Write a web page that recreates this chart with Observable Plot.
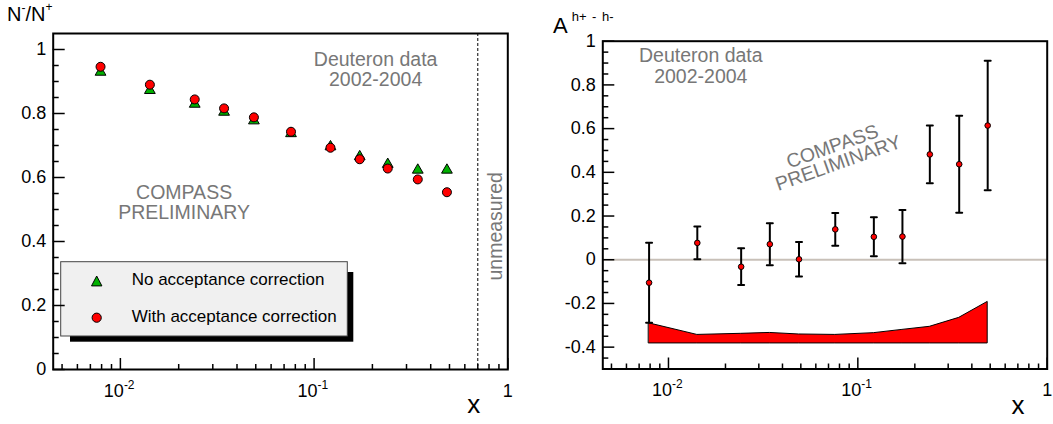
<!DOCTYPE html>
<html><head><meta charset="utf-8">
<script src="https://cdn.jsdelivr.net/npm/d3@7"></script>
<script src="https://cdn.jsdelivr.net/npm/@observablehq/plot@0.6"></script>
<style>
body{margin:0;background:#fff;font-family:"Liberation Sans",Arial,sans-serif;}
#wrap{position:relative;width:1053px;height:424px;overflow:hidden;background:#fff;}
#overlay{position:absolute;left:0;top:0;}
#left,#right{position:absolute;top:0;}
#left{left:0px}
#right{left:530px}
</style></head><body>
<div id="wrap">
  <svg id="overlay" width="1053" height="424" font-family="Liberation Sans, Arial, sans-serif">
    <rect x="70" y="272" width="283.3" height="69.7" fill="#000"/>
    <rect x="60.7" y="261.7" width="286.6" height="74.3" fill="#f0f0f0" stroke="#444" stroke-width="1"/>
    <path d="M96.7,276 L101.9,285.9 L91.5,285.9 Z" fill="#00b000" stroke="#000" stroke-width="1"/>
    <circle cx="96.7" cy="317.7" r="4.6" fill="#ff0000" stroke="#000" stroke-width="1"/>
    <text x="131.7" y="285.3" font-size="17" fill="#000">No acceptance correction</text>
    <text x="131.7" y="322.3" font-size="17" fill="#000">With acceptance correction</text>
    <text x="7" y="21" font-size="20" fill="#000">N<tspan font-size="12" dy="-9">-</tspan><tspan font-size="20" dy="9">/N</tspan><tspan font-size="12" dy="-10">+</tspan></text>
    <text x="553" y="32.7" font-size="22" fill="#000">A</text>
    <text x="571.7" y="20.7" font-size="13" fill="#000" word-spacing="2">h+ - h-</text>
  </svg>
  <div id="left"></div>
  <div id="right"></div>
</div>
<script>
// ---------- data ----------
const xBins = [0.0079, 0.0142, 0.0242, 0.0343, 0.0489, 0.076, 0.1215, 0.172, 0.240, 0.343, 0.485];
const ratioNoCorr = [0.934, 0.877, 0.834, 0.809, 0.782, 0.742, 0.701, 0.670, 0.646, 0.628, 0.628];
const ratioCorr = [0.946, 0.890, 0.844, 0.816, 0.788, 0.743, 0.693, 0.657, 0.628, 0.594, 0.554];
const asym = [-0.105, 0.077, -0.032, 0.071, 0.002, 0.139, 0.105, 0.106, 0.482, 0.437, 0.614];
const asymErr = [0.183, 0.075, 0.084, 0.096, 0.079, 0.075, 0.089, 0.122, 0.132, 0.222, 0.296];
const sysTop = [-0.291, -0.344, -0.339, -0.335, -0.342, -0.344, -0.336, -0.321, -0.307, -0.266, -0.193];
const sysBase = -0.383;
const unmeasuredX = 0.7;

const xMajorTicks = [0.01, 0.1, 1];
const xMajorBase = ["10", "10", "1"];
const xMajorExp = ["-2", "-1", ""];
const xMinorTicks = [0.005, 0.006, 0.007, 0.008, 0.009, 0.02, 0.03, 0.04, 0.05, 0.06, 0.07, 0.08, 0.09, 0.2, 0.3, 0.4, 0.5, 0.6, 0.7, 0.8, 0.9];
const yLeftMajor = [0, 0.2, 0.4, 0.6, 0.8, 1];
const yLeftMinor = [0.05, 0.1, 0.15, 0.25, 0.3, 0.35, 0.45, 0.5, 0.55, 0.65, 0.7, 0.75, 0.85, 0.9, 0.95];
const yRightMajor = [-0.4, -0.2, 0, 0.2, 0.4, 0.6, 0.8, 1];
const yRightMinor = [-0.45, -0.35, -0.3, -0.25, -0.15, -0.1, -0.05, 0.05, 0.1, 0.15, 0.25, 0.3, 0.35, 0.45, 0.5, 0.55, 0.65, 0.7, 0.75, 0.85, 0.9, 0.95];

const noteData = "Deuteron data\n2002-2004";
const notePrelim = "COMPASS\nPRELIMINARY";
const noteUnmeasured = "unmeasured";

// ---------- tables ----------
const ratioRows = xBins.map((x, i) => ({x, noCorr: ratioNoCorr[i], corr: ratioCorr[i]}));
const asymRows = xBins.map((x, i) => ({x, a: asym[i], lo: asym[i] - asymErr[i], hi: asym[i] + asymErr[i], sys: sysTop[i], base: sysBase}));
const xLabelRows = xMajorTicks.map((v, i) => ({v, base: xMajorBase[i], exp: xMajorExp[i]}));

const GRAY = "#777777";
const FONT = "Liberation Sans, Arial, sans-serif";
const lineShape = {draw(context, l) { context.moveTo(0, 0); context.lineTo(0, -l); }};

// panel geometry (pixels)
const L = {width: 530, height: 424, marginLeft: 52.7, marginRight: 22.7, marginTop: 33, marginBottom: 55};
const R = {width: 523, height: 424, marginLeft: 72.3, marginRight: 6.3, marginTop: 40.7, marginBottom: 55.5};
const fw = g => g.width - g.marginLeft - g.marginRight;
const fh = g => g.height - g.marginTop - g.marginBottom;

// inward ROOT-style ticks
function yTicks(g, values, len) {
  return Plot.tickY(values, {y: d => d, insetRight: fw(g) - len, stroke: "#000", strokeWidth: 1.5});
}
function xAxisMarks(g) {
  return [
    Plot.tickX(xMinorTicks, {x: d => d, insetTop: fh(g) - 5, stroke: "#000", strokeWidth: 1.5}),
    Plot.tickX(xMajorTicks, {x: d => d, insetTop: fh(g) - 11, stroke: "#000", strokeWidth: 1.5}),
    Plot.text(xLabelRows.filter(d => d.exp !== ""), {x: "v", text: "base", frameAnchor: "bottom", textAnchor: "end", lineAnchor: "bottom", dx: 3.5, dy: 27, fontSize: 18, fill: "black"}),
    Plot.text(xLabelRows.filter(d => d.exp !== ""), {x: "v", text: "exp", frameAnchor: "bottom", textAnchor: "start", lineAnchor: "bottom", dx: 3.5, dy: 19, fontSize: 12, fill: "black"}),
    Plot.text(xLabelRows.filter(d => d.exp === ""), {x: "v", text: "base", frameAnchor: "bottom", textAnchor: "middle", lineAnchor: "bottom", dy: 27, fontSize: 18, fill: "black"})
  ];
}

// ---------- left panel ----------
const left = Plot.plot({
  ...L,
  style: {fontFamily: FONT, fontSize: "18px", background: "transparent"},
  x: {type: "log", domain: [0.0045, 1], axis: null},
  y: {domain: [0, 1.05]},
  marks: [
    Plot.ruleX([unmeasuredX], {stroke: "black", strokeWidth: 1, strokeDasharray: "3,2"}),
    yTicks(L, yLeftMinor, 6),
    yTicks(L, yLeftMajor, 12),
    Plot.axisY(yLeftMajor, {tickSize: 0, tickPadding: 7, tickFormat: d => String(d), label: null, fontSize: 18, fill: "black"}),
    ...xAxisMarks(L),
    Plot.dot(ratioRows, {x: "x", y: "noCorr", symbol: "triangle", r: 4, dy: 1.5, fill: "#00b000", stroke: "black", strokeWidth: 1}),
    Plot.dot(ratioRows, {x: "x", y: "corr", symbol: "circle", r: 4.5, fill: "#ff0000", stroke: "black", strokeWidth: 1}),
    Plot.text([noteData], {text: d => d, frameAnchor: "top-left", dx: 322.4, dy: 17.7, textAnchor: "middle", lineAnchor: "top", lineHeight: 1.05, fontSize: 19.5, fill: GRAY}),
    Plot.text([notePrelim], {text: d => d, frameAnchor: "top-left", dx: 130.9, dy: 150.8, textAnchor: "middle", lineAnchor: "top", lineHeight: 1.05, fontSize: 19.5, fill: GRAY}),
    Plot.text([noteUnmeasured], {text: d => d, frameAnchor: "top-right", dx: -5.8, dy: 192.8, rotate: -90, textAnchor: "middle", lineAnchor: "bottom", fontSize: 19.5, fill: GRAY}),
    Plot.text(["x"], {text: d => d, frameAnchor: "bottom-right", dx: -40.6, dy: 43.7, textAnchor: "start", lineAnchor: "bottom", fontSize: 26, fill: "black"}),
    Plot.frame({stroke: "black", strokeWidth: 2})
  ]
});
document.getElementById("left").append(left);

// ---------- right panel ----------
const right = Plot.plot({
  ...R,
  style: {fontFamily: FONT, fontSize: "18px", background: "transparent"},
  x: {type: "log", domain: [0.0045, 1], axis: null},
  y: {domain: [-0.5, 1]},
  marks: [
    Plot.ruleY([0], {stroke: "#c8c0b8", strokeWidth: 2}),
    Plot.areaY(asymRows, {x: "x", y1: "base", y2: "sys", fill: "#ff0000", stroke: "black", strokeWidth: 1}),
    yTicks(R, yRightMinor, 6),
    yTicks(R, yRightMajor, 12),
    Plot.axisY(yRightMajor, {tickSize: 0, tickPadding: 7, tickFormat: d => String(d), label: null, fontSize: 18, fill: "black"}),
    ...xAxisMarks(R),
    Plot.ruleX(asymRows, {x: "x", y1: "lo", y2: "hi", stroke: "black", strokeWidth: 2}),
    Plot.vector(asymRows, {x: "x", y: "lo", length: 6, rotate: 90, anchor: "middle", shape: lineShape, stroke: "black", strokeWidth: 2}),
    Plot.vector(asymRows, {x: "x", y: "hi", length: 6, rotate: 90, anchor: "middle", shape: lineShape, stroke: "black", strokeWidth: 2}),
    Plot.dot(asymRows, {x: "x", y: "a", r: 2.8, fill: "#ff0000", stroke: "black", strokeWidth: 1}),
    Plot.text([noteData], {text: d => d, frameAnchor: "top-left", dx: 98, dy: 6.3, textAnchor: "middle", lineAnchor: "top", lineHeight: 1.05, fontSize: 19.5, fill: GRAY}),
    Plot.text([notePrelim], {text: d => d, frameAnchor: "top-left", dx: 232.7, dy: 114.3, rotate: -19.5, textAnchor: "middle", lineAnchor: "middle", lineHeight: 0.9, fontSize: 19.5, fill: GRAY}),
    Plot.text(["x"], {text: d => d, frameAnchor: "bottom-right", dx: -35.7, dy: 44.5, textAnchor: "start", lineAnchor: "bottom", fontSize: 26, fill: "black"}),
    Plot.frame({stroke: "black", strokeWidth: 2})
  ]
});
document.getElementById("right").append(right);
</script>
</body></html>
